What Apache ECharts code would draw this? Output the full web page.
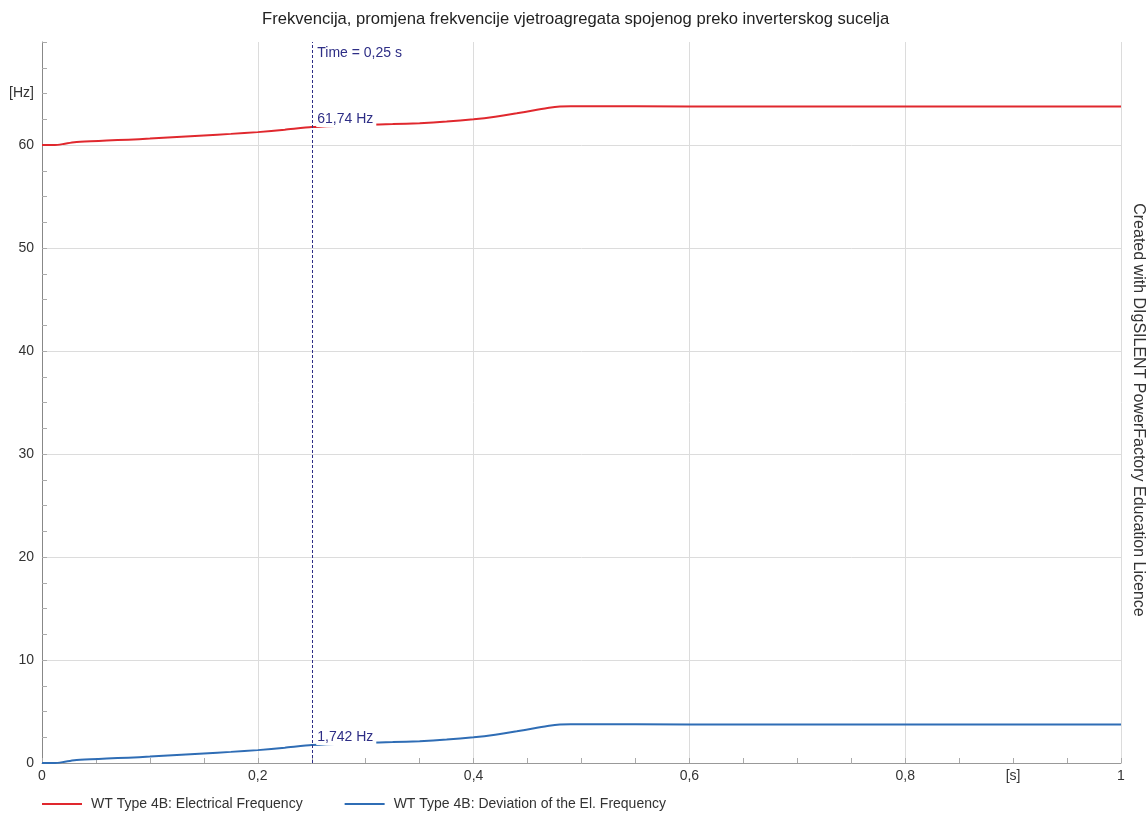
<!DOCTYPE html>
<html>
<head>
<meta charset="utf-8">
<script src="https://cdn.jsdelivr.net/npm/echarts@6/dist/echarts.min.js"></script>
<style>
html,body{margin:0;padding:0;background:#fff;}
#main{width:1148px;height:814px;}
</style>
</head>
<body>
<div id="main"></div>
<script>
var titleText = 'Frekvencija, promjena frekvencije vjetroagregata spojenog preko inverterskog sucelja';
var sideText = 'Created with DIgSILENT PowerFactory Education Licence';
var seriesNames = ['WT Type 4B: Electrical Frequency', 'WT Type 4B: Deviation of the El. Frequency'];
var time = [0, 0.012, 0.02, 0.03, 0.045, 0.06, 0.08, 0.1, 0.125, 0.15, 0.175, 0.2, 0.225, 0.25, 0.275, 0.3, 0.325, 0.35, 0.375, 0.4, 0.42, 0.44, 0.455, 0.47, 0.48, 0.49, 0.5, 0.6, 0.7, 0.8, 0.9, 1];
var freq = [60, 60, 60.1, 60.26, 60.36, 60.43, 60.52, 60.62, 60.78, 60.93, 61.08, 61.25, 61.48, 61.74, 61.86, 61.96, 62.03, 62.12, 62.28, 62.5, 62.75, 63.08, 63.35, 63.62, 63.74, 63.77, 63.76, 63.75, 63.75, 63.75, 63.75, 63.75];
var dev = [0, 0, 0.1, 0.26, 0.36, 0.43, 0.52, 0.62, 0.78, 0.93, 1.08, 1.25, 1.48, 1.742, 1.86, 1.96, 2.03, 2.12, 2.28, 2.5, 2.75, 3.08, 3.35, 3.62, 3.74, 3.77, 3.76, 3.75, 3.75, 3.75, 3.75, 3.75];
var cursorTime = 0.25;
var cursorFreq = 61.74;
var cursorDev = 1.742;
var cursorLabels = ['Time = 0,25 s', '61,74 Hz', '1,742 Hz'];
var xUnit = '[s]';
var yUnit = '[Hz]';

var FONT = 'Liberation Sans';
var NAVY = '#2e2e86';
function pairs(xs, ys){ return xs.map(function(x,i){return [x, ys[i]];}); }
function comma(v){ return String(v).replace('.', ','); }

var markLabel = function(offset){
  return {show:true, position:'right', distance:4, offset:offset, color:NAVY, fontSize:14, fontFamily:FONT,
          backgroundColor:'#fff', padding:[1,3,1,1]};
};

var chart = echarts.init(document.getElementById('main'));
chart.setOption({
  animation:false,
  backgroundColor:'#fff',
  title:{text:titleText, left:262, top:11, padding:0, textStyle:{fontSize:16.6, fontWeight:'normal', color:'#222', fontFamily:FONT}},
  grid:{left:42, right:27, top:42, bottom:51},
  legend:{left:42, top:797, padding:0, icon:'rect', itemWidth:40, itemHeight:2, itemGap:42,
    textStyle:{fontSize:14, color:'#333', fontFamily:FONT, padding:[0,0,0,4]}, data:seriesNames},
  xAxis:[{
    type:'value', min:0, max:1, interval:0.2,
    axisLine:{show:true, lineStyle:{color:'#999', width:1}},
    axisTick:{show:true, inside:true, length:5, lineStyle:{color:'#aaa'}},
    minorTick:{show:true, splitNumber:4, length:5, lineStyle:{color:'#aaa'}},
    splitLine:{show:true, lineStyle:{color:'#dcdcdc'}},
    axisLabel:{margin:6, fontSize:14, color:'#333', fontFamily:FONT, formatter:comma, showMaxLabel:true, showMinLabel:true}
  },{
    type:'value', min:0, max:1, interval:0.1, position:'bottom',
    axisLine:{show:false}, axisTick:{show:false}, splitLine:{show:false},
    axisLabel:{margin:6, fontSize:14, color:'#333', fontFamily:FONT,
      formatter:function(v){ return Math.abs(v-0.9)<1e-6 ? xUnit : ''; }}
  }],
  yAxis:{
    type:'value', min:0, max:70, interval:10,
    name:yUnit, nameLocation:'end', nameGap:-51,
    nameTextStyle:{fontSize:14, color:'#333', fontFamily:FONT, align:'right', verticalAlign:'middle', padding:[0,8,0,0]},
    axisLine:{show:true, lineStyle:{color:'#888', width:1}},
    axisTick:{show:true, inside:true, length:5, lineStyle:{color:'#aaa'}},
    minorTick:{show:true, splitNumber:4, length:5, lineStyle:{color:'#aaa'}},
    splitLine:{show:true, showMaxLine:false, lineStyle:{color:'#dcdcdc'}},
    axisLabel:{margin:8, fontSize:14, color:'#333', fontFamily:FONT,
      formatter:function(v){ return v===70 ? '' : String(v); }}
  },
  series:[{
    name:seriesNames[0], type:'line', xAxisIndex:0, data:pairs(time, freq), showSymbol:false, smooth:0.2,
    lineStyle:{color:'#e0282e', width:2}, itemStyle:{color:'#e0282e'},
    markLine:{silent:true, symbol:'none', label:{show:false},
      lineStyle:{type:[3,2], color:NAVY, width:1}, data:[{xAxis:cursorTime}]},
    markPoint:{silent:true, symbol:'rect', symbolSize:1, itemStyle:{color:'rgba(0,0,0,0)'},
      data:[
        {coord:[cursorTime, 70], value:cursorLabels[0], label:Object.assign(markLabel([0,11]), {formatter:cursorLabels[0]})},
        {coord:[cursorTime, cursorFreq], value:cursorFreq, label:Object.assign(markLabel([0,-8]), {formatter:cursorLabels[1]})}
      ]}
  },{
    name:seriesNames[1], type:'line', xAxisIndex:0, data:pairs(time, dev), showSymbol:false, smooth:0.2,
    lineStyle:{color:'#2f6db5', width:2}, itemStyle:{color:'#2f6db5'},
    markPoint:{silent:true, symbol:'rect', symbolSize:1, itemStyle:{color:'rgba(0,0,0,0)'},
      data:[
        {coord:[cursorTime, cursorDev], value:cursorDev, label:Object.assign(markLabel([0,-8]), {formatter:cursorLabels[2]})}
      ]}
  }],
  graphic:[{
    type:'text', x:1138, y:410, rotation:-Math.PI/2,
    style:{text:sideText, fontSize:16, fontFamily:FONT, fill:'#333', textAlign:'center', textVerticalAlign:'middle'}
  }]
});
</script>
</body>
</html>
